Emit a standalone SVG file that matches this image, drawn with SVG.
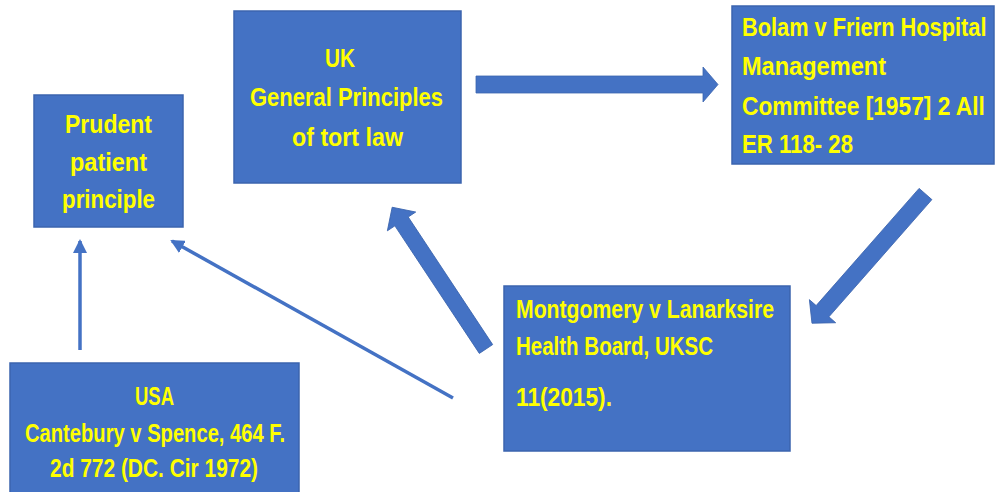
<svg xmlns="http://www.w3.org/2000/svg" width="995" height="492" viewBox="0 0 995 492">
<style>
.box{fill:#4472C4;stroke:#3B64AE;stroke-width:1.5}
.t{font-family:"Liberation Sans",Arial,sans-serif;font-weight:bold;font-size:26px;fill:#FFFF00}
.c{text-anchor:middle}
.blk{fill:#4472C4;stroke:#3B64AE;stroke-width:0.8}
.thin{stroke:#4472C4;stroke-width:3.5;fill:none}
</style>
<defs>
<marker id="ah" markerUnits="userSpaceOnUse" markerWidth="14" markerHeight="14" viewBox="0 0 14 14" refX="12" refY="7" orient="auto">
<path d="M0,0 L14,7 L0,14 Z" fill="#4472C4"/>
</marker>
</defs>
<rect width="995" height="492" fill="#FFFFFF"/>
<g id="connectors">
<polygon class="blk" transform="translate(476,84.5)" points="0,-8.5 227,-8.5 227,-17.5 242,0 227,17.5 227,8.5 0,8.5"/>
<polygon class="blk" transform="translate(925.5,194) rotate(131.3)" points="0,-8.5 156,-8.5 156,-17.5 172,0 156,17.5 156,8.5 0,8.5"/>
<polygon class="blk" transform="translate(486,349) rotate(-123.5)" points="0,-8 153,-8 153,-17 170,0 153,17 153,8 0,8"/>
<line class="thin" x1="453" y1="398" x2="172" y2="241" marker-end="url(#ah)"/>
<line class="thin" x1="80" y1="350" x2="80" y2="241" marker-end="url(#ah)"/>
</g>
<g id="prudent">
<rect class="box" x="34" y="95" width="149" height="132"/>
<text class="t c" x="108.5" y="133" textLength="87" lengthAdjust="spacingAndGlyphs">Prudent</text>
<text class="t c" x="108.5" y="171" textLength="77" lengthAdjust="spacingAndGlyphs">patient</text>
<text class="t c" x="108.5" y="208" textLength="93" lengthAdjust="spacingAndGlyphs">principle</text>
</g>
<g id="uk">
<rect class="box" x="234" y="11" width="227" height="172"/>
<text class="t c" x="340" y="67" textLength="30" lengthAdjust="spacingAndGlyphs">UK</text>
<text class="t c" x="346.5" y="106" textLength="193" lengthAdjust="spacingAndGlyphs">General Principles</text>
<text class="t c" x="347.5" y="146" textLength="111" lengthAdjust="spacingAndGlyphs">of tort law</text>
</g>
<g id="bolam">
<rect class="box" x="732" y="6" width="262" height="158"/>
<text class="t" transform="translate(742,36) scale(0.84,1)" x="0" y="0" textLength="291" lengthAdjust="spacingAndGlyphs">Bolam v Friern Hospital</text>
<text class="t" x="742" y="75" textLength="144" lengthAdjust="spacingAndGlyphs">Management</text>
<text class="t" transform="translate(742,115) scale(0.84,1)" x="0" y="0" textLength="289" lengthAdjust="spacingAndGlyphs">Committee [1957] 2 All</text>
<text class="t" x="742" y="153" textLength="111" lengthAdjust="spacingAndGlyphs">ER 118- 28</text>
</g>
<g id="montgomery">
<rect class="box" x="504" y="286" width="286" height="165"/>
<text class="t" x="516" y="318" textLength="258" lengthAdjust="spacingAndGlyphs">Montgomery v Lanarksire</text>
<text class="t" x="516" y="355" textLength="197" lengthAdjust="spacingAndGlyphs">Health Board, UKSC</text>
<text class="t" x="516" y="406" textLength="96" lengthAdjust="spacingAndGlyphs">11(2015).</text>
</g>
<g id="usa">
<rect class="box" x="10" y="363" width="289" height="140"/>
<text class="t c" x="154.5" y="405" textLength="39" lengthAdjust="spacingAndGlyphs">USA</text>
<text class="t c" x="155" y="442" textLength="260" lengthAdjust="spacingAndGlyphs">Cantebury v Spence, 464 F.</text>
<text class="t c" x="154" y="477" textLength="208" lengthAdjust="spacingAndGlyphs">2d 772 (DC. Cir 1972)</text>
</g>
</svg>
